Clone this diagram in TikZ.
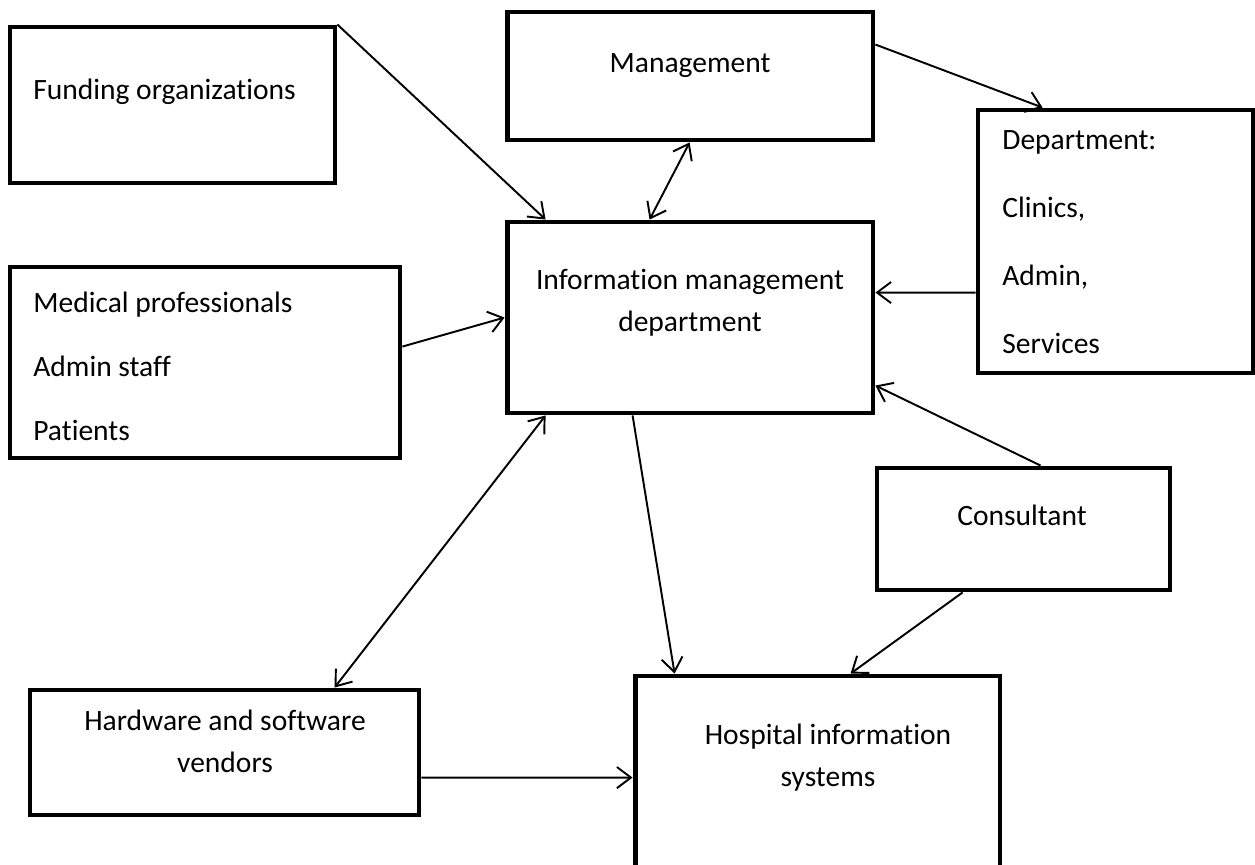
\documentclass[tikz,border=0pt]{standalone}
\usepackage{fontspec}
\setmainfont{Carlito}[Ligatures={NoCommon,NoContextual},Contextuals=NoAlternate]
\usetikzlibrary{arrows.meta,calc}

\begin{document}
\begin{tikzpicture}[x=0.02cm,y=-0.02cm]
    \tikzstyle{box}=[draw=black,line width=2.8pt,inner sep=0pt,rectangle]
    \tikzstyle{txt}=[inner sep=0pt,font=\fontsize{16.8}{23.5}\selectfont]
    \tikzstyle{conn}=[black,line width=1.1pt,-{Straight Barb[length=8pt,width=12pt]}]
    \tikzstyle{both}=[conn,{Straight Barb[length=8pt,width=12pt]}-{Straight Barb[length=8pt,width=12pt]}]
    \useasboundingbox (0,0) rectangle (1255,865);
    \clip (0,0) rectangle (1255,865);
    % boxes
    \node[box,minimum width=6.5cm,minimum height=3.12cm] (fund) at (172.5,105) {};
    \node[box,minimum width=7.32cm,minimum height=2.56cm] (mgmt) at (690,76) {};
    \node[box,minimum width=5.5cm,minimum height=5.26cm] (dept) at (1115.5,241.5) {};
    \node[box,minimum width=7.32cm,minimum height=3.82cm] (imd) at (690,317.5) {};
    \node[box,minimum width=7.8cm,minimum height=3.82cm] (med) at (205,362.5) {};
    \node[box,minimum width=5.86cm,minimum height=2.44cm] (cons) at (1023.5,529) {};
    \node[box,minimum width=7.78cm,minimum height=2.5cm] (hw) at (224.5,752.5) {};
    \node[box,minimum width=7.3cm,minimum height=4.56cm] (his) at (817.5,790) {};
    % texts (base = last line)
    \node[txt,anchor=base west] (fundtxt) at (33,100) {Funding organizations};
    \node[txt,anchor=base] (mgmttxt) at (690,73) {Management};
    \node[txt,anchor=base west,align=left,font=\fontsize{16.8}{38.6}\selectfont] (depttxt) at (1002,353)
        {Department:\\Clinics,\\Admin,\\Services};
    \node[txt,anchor=base,align=center] (imdtxt) at (690,331) {Information management\\department};
    \node[txt,anchor=base west,align=left,font=\fontsize{16.8}{36.3}\selectfont] (medtxt) at (33,440)
        {Medical professionals\\Admin staff\\Patients};
    \node[txt,anchor=base] (constxt) at (1022,525) {Consultant};
    \node[txt,anchor=base,align=center] (hwtxt) at (225,772) {Hardware and software\\vendors};
    \node[txt,anchor=base,align=center] (histxt) at (828,786) {Hospital information\\systems};
    % connectors
    \draw[conn] (fund.north east) -- ($(imd.north west)+(41,0)$);
    \draw[both] ($(mgmt.south west)+(185,0)$) -- ($(imd.north west)+(145,0)$);
    \draw[conn] ($(mgmt.north east)+(0,35)$) -- ($(dept.north west)+(67,0)$);
    \draw[conn] ($(dept.north west)+(0,185)$) -- ($(imd.north east)+(0,73)$);
    \draw[conn] ($(med.north east)+(0,82)$) -- ($(imd.north west)+(0,98)$);
    \draw[conn] ($(cons.north west)+(166,0)$) -- ($(imd.north east)+(0,166)$);
    \draw[both] ($(imd.south west)+(41,0)$) -- ($(hw.north west)+(307,0)$);
    \draw[conn] ($(imd.south west)+(128,0)$) -- ($(his.north west)+(42,0)$);
    \draw[conn] ($(cons.south west)+(88,0)$) -- ($(his.north west)+(218,0)$);
    \draw[conn] ($(hw.north east)+(0,90)$) -- ($(his.north west)+(0,104)$);
\end{tikzpicture}
\end{document}
